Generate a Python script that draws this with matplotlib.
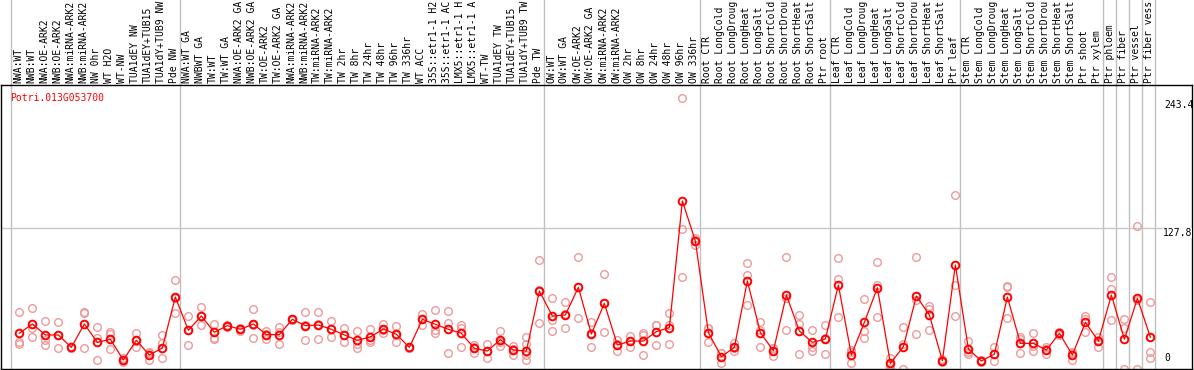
import matplotlib
matplotlib.use("Agg")
import matplotlib.pyplot as plt
import matplotlib.transforms as mtransforms

# sample labels along the top
labels = [
    "NWA:WT", "NWB:WT", "NWA:OE-ARK2", "NWB:OE-ARK2", "NWA:miRNA-ARK2", "NWB:miRNA-ARK2",
    "NW 0hr", "WT H2O", "WT-NW", "TUA1dEY NW", "TUA1dEY+TUB15", "TUA1dY+TUB9 NW", "Pde NW",
    "NWA:WT GA", "NWBWT GA", "TW:WT", "TW:WT GA", "NWA:OE-ARK2 GA", "NWB:OE-ARK2 GA",
    "TW:OE-ARK2", "TW:OE-ARK2 GA", "NWA:miRNA-ARK2", "NWB:miRNA-ARK2", "TW:miRNA-ARK2",
    "TW:miRNA-ARK2", "TW 2hr", "TW 8hr", "TW 24hr", "TW 48hr", "TW 96hr", "TW 336hr",
    "WT ACC", "35S::etr1-1 H2", "35S::etr1-1 AC", "LMX5::etr1-1 H", "LMX5::etr1-1 A",
    "WT-TW", "TUA1dEY TW", "TUA1dEY+TUB15", "TUA1dY+TUB9 TW", "Pde TW",
    "OW:WT", "OW:WT GA", "OW:OE-ARK2", "OW:OE-ARK2 GA", "OW:miRNA-ARK2", "OW:miRNA-ARK2",
    "OW 2hr", "OW 8hr", "OW 24hr", "OW 48hr", "OW 96hr", "OW 336hr",
    "Root CTR", "Root LongCold", "Root LongDroug", "Root LongHeat", "Root LongSalt",
    "Root ShortCold", "Root ShortDrou", "Root ShortHeat", "Root ShortSalt", "Ptr root",
    "Leaf CTR", "Leaf LongCold", "Leaf LongDroug", "Leaf LongHeat", "Leaf LongSalt",
    "Leaf ShortCold", "Leaf ShortDrou", "Leaf ShortHeat", "Leaf ShortSalt", "Ptr leaf",
    "Stem CTR", "Stem LongCold", "Stem LongDroug", "Stem LongHeat", "Stem LongSalt",
    "Stem ShortCold", "Stem ShortDrou", "Stem ShortHeat", "Stem ShortSalt",
    "Ptr shoot", "Ptr xylem", "Ptr phloem", "Ptr fiber", "Ptr vessel", "Ptr fiber vess",
]

# mean expression per sample
means = [
    33.1, 41.5, 31.6, 31.6, 20.4, 41.5, 24.9, 27.7, 9.0, 26.8, 13.5, 19.8, 65.8,
    35.8, 48.7, 34.0, 40.0, 36.7, 41.5, 31.9, 31.9, 45.7, 40.0, 40.6, 36.7, 31.6,
    26.8, 29.8, 37.0, 32.2, 20.4, 45.7, 41.2, 36.7, 33.1, 19.5, 17.1, 27.4, 18.0,
    17.1, 71.2, 48.7, 49.6, 74.5, 32.5, 60.1, 22.5, 26.1, 26.1, 34.6, 38.2, 152.4,
    116.3, 33.7, 12.0, 20.4, 80.3, 33.7, 17.4, 67.6, 35.2, 24.9, 28.0, 76.6, 13.5,
    43.0, 74.2, 6.0, 21.0, 66.7, 49.6, 8.4, 94.7, 18.9, 8.1, 14.4, 65.8, 24.0,
    24.0, 18.0, 33.1, 13.5, 43.0, 26.1, 67.6, 27.7, 64.6, 29.5,
]

# individual replicates per sample
replicates = [
    [52.6, 25.5, 23.1], [55.6, 37.6, 29.5], [43.9, 27.1, 22.5], [43.0, 19.5, 31.6],
    [21.0, 20.0, 19.5], [52.6, 51.1, 19.5], [38.8, 28.6, 9.0], [34.6, 32.2, 18.6],
    [10.5, 7.5, 9.0], [33.1, 21.0, 26.3], [16.5, 9.0, 15.0], [31.6, 24.0, 10.5],
    [81.2, 51.1, 65.0], [48.7, 22.5, 36.0], [57.1, 40.6, 48.5], [41.5, 28.6, 28.0],
    [40.0, 39.0, 41.0], [37.6, 35.5, 37.0], [55.0, 28.6, 41.0], [35.2, 28.0, 32.5],
    [38.5, 23.1, 34.0], [46.0, 45.5, 45.6], [52.0, 26.8, 41.0], [52.6, 27.7, 41.5],
    [43.9, 29.5, 36.7], [37.9, 25.5, 31.4], [35.5, 23.1, 19.5], [36.7, 25.5, 27.2],
    [41.5, 33.1, 36.4], [39.7, 24.9, 32.0], [21.0, 20.0, 20.2], [50.5, 40.6, 46.0],
    [53.8, 36.1, 33.1], [52.9, 42.1, 15.0], [40.6, 20.4, 38.3], [22.5, 15.6, 20.4],
    [23.4, 10.5, 17.4], [35.5, 21.9, 24.8], [21.9, 13.5, 18.6], [29.5, 23.4, 13.5, 9.0],
    [99.2, 42.1, 72.3], [64.6, 45.1, 35.5], [61.0, 37.6, 50.2], [102.2, 46.6, 74.7],
    [43.0, 21.0, 33.5], [86.3, 34.0, 60.0], [27.1, 17.4, 23.0], [31.0, 21.0, 26.3],
    [33.1, 13.5, 31.7], [40.6, 22.5, 40.7], [51.1, 23.1, 40.4], [245.0, 126.8, 83.6],
    [118.7, 112.7, 117.5], [37.6, 25.5, 38.0], [15.0, 6.0, 15.0], [24.0, 17.4, 19.8],
    [96.2, 85.7, 58.6], [43.6, 21.0, 36.5], [19.5, 12.6, 20.1], [102.2, 64.6, 36.1],
    [49.6, 41.5, 14.1], [36.1, 20.4, 17.4], [40.6, 14.4, 29.0], [100.7, 82.1, 47.5],
    [18.0, 6.0, 16.5], [63.7, 35.5, 28.6], [97.1, 76.6, 47.5], [11.1, 2.1, 4.8],
    [38.5, 23.1, 0.6], [101.6, 63.1, 32.5], [58.0, 36.1, 54.7], [9.9, 7.5, 7.8],
    [157.8, 76.6, 48.7], [26.1, 14.1, 16.5], [9.0, 7.5, 7.8], [20.4, 8.1, 14.7],
    [76.0, 74.5, 46.6], [30.1, 28.0, 15.0], [33.1, 17.4, 21.5], [21.0, 14.1, 18.9],
    [34.6, 32.0, 32.7], [15.0, 9.0, 16.5], [49.0, 34.0, 46.0], [30.1, 21.0, 27.2],
    [83.6, 73.1, 45.1], [45.7, 37.6, 0.6], [129.8, 0.6, 63.4], [61.6, 16.5, 10.5],
]

# group separators (between samples)
separators = [-0.62, 12.38, 40.38, 52.38, 62.38, 72.38, 83.38, 84.38, 85.38, 86.38, 87.38]
yticks = [0, 127.8, 243.4]
gene = "Potri.013G053700"

mono = "DejaVu Sans Mono"
fig = plt.figure(figsize=(11.94, 3.70), dpi=100)
ax = fig.add_axes([1 / 1194, 1 / 370, 1191 / 1194, 284 / 370])
ax.set_xlim(-1.41, 90.2)
ax.set_ylim(0.9, 257.0)

for s in separators:
    ax.axvline(s, ymin=0, ymax=1.31, color="#c0c0c0", lw=1, clip_on=False, zorder=1)
ax.axhline(127.8, color="#c8c8c8", lw=1, zorder=1)

for i, reps in enumerate(replicates):
    ax.plot([i] * len(reps), reps, "o", ms=5.5, mfc="none", mec="#ee9a9a", mew=1, zorder=2)

x = list(range(len(means)))
ax.plot(x, means, "-", color="red", lw=0.9, zorder=3)
ax.plot(x, means, "o", ms=5.5, mfc="none", mec="red", mew=1.4, zorder=4)

ax.text(0.0075, 0.955, gene, transform=ax.transAxes, color="red",
        family=mono, fontsize=7, va="center", ha="left")

# right side value labels
ax.text(1163, 127.8, "127.8", transform=mtransforms.blended_transform_factory(
    mtransforms.IdentityTransform(), ax.transData), fontsize=7, family=mono,
    va="top", ha="left", bbox=dict(facecolor="white", edgecolor="none", pad=0))
ax.text(0.9765, 243.4, "243.4", transform=mtransforms.blended_transform_factory(
    ax.transAxes, ax.transData), fontsize=7, family=mono, va="top", ha="left")
ax.text(0.9765, 0.02, "0", transform=ax.transAxes, fontsize=7, family=mono,
        va="bottom", ha="left")

trans = mtransforms.blended_transform_factory(ax.transData, ax.transAxes)
for i, lab in enumerate(labels):
    ax.text(i - 0.1, 1.0 + 2 / 284, lab, transform=trans, rotation=90,
            ha="center", va="bottom", fontsize=7, family=mono, clip_on=False)

ax.set_xticks([])
ax.set_yticks([])
for sp in ax.spines.values():
    sp.set_color("black")
    sp.set_linewidth(1)

fig.savefig("out.png", dpi=100)
